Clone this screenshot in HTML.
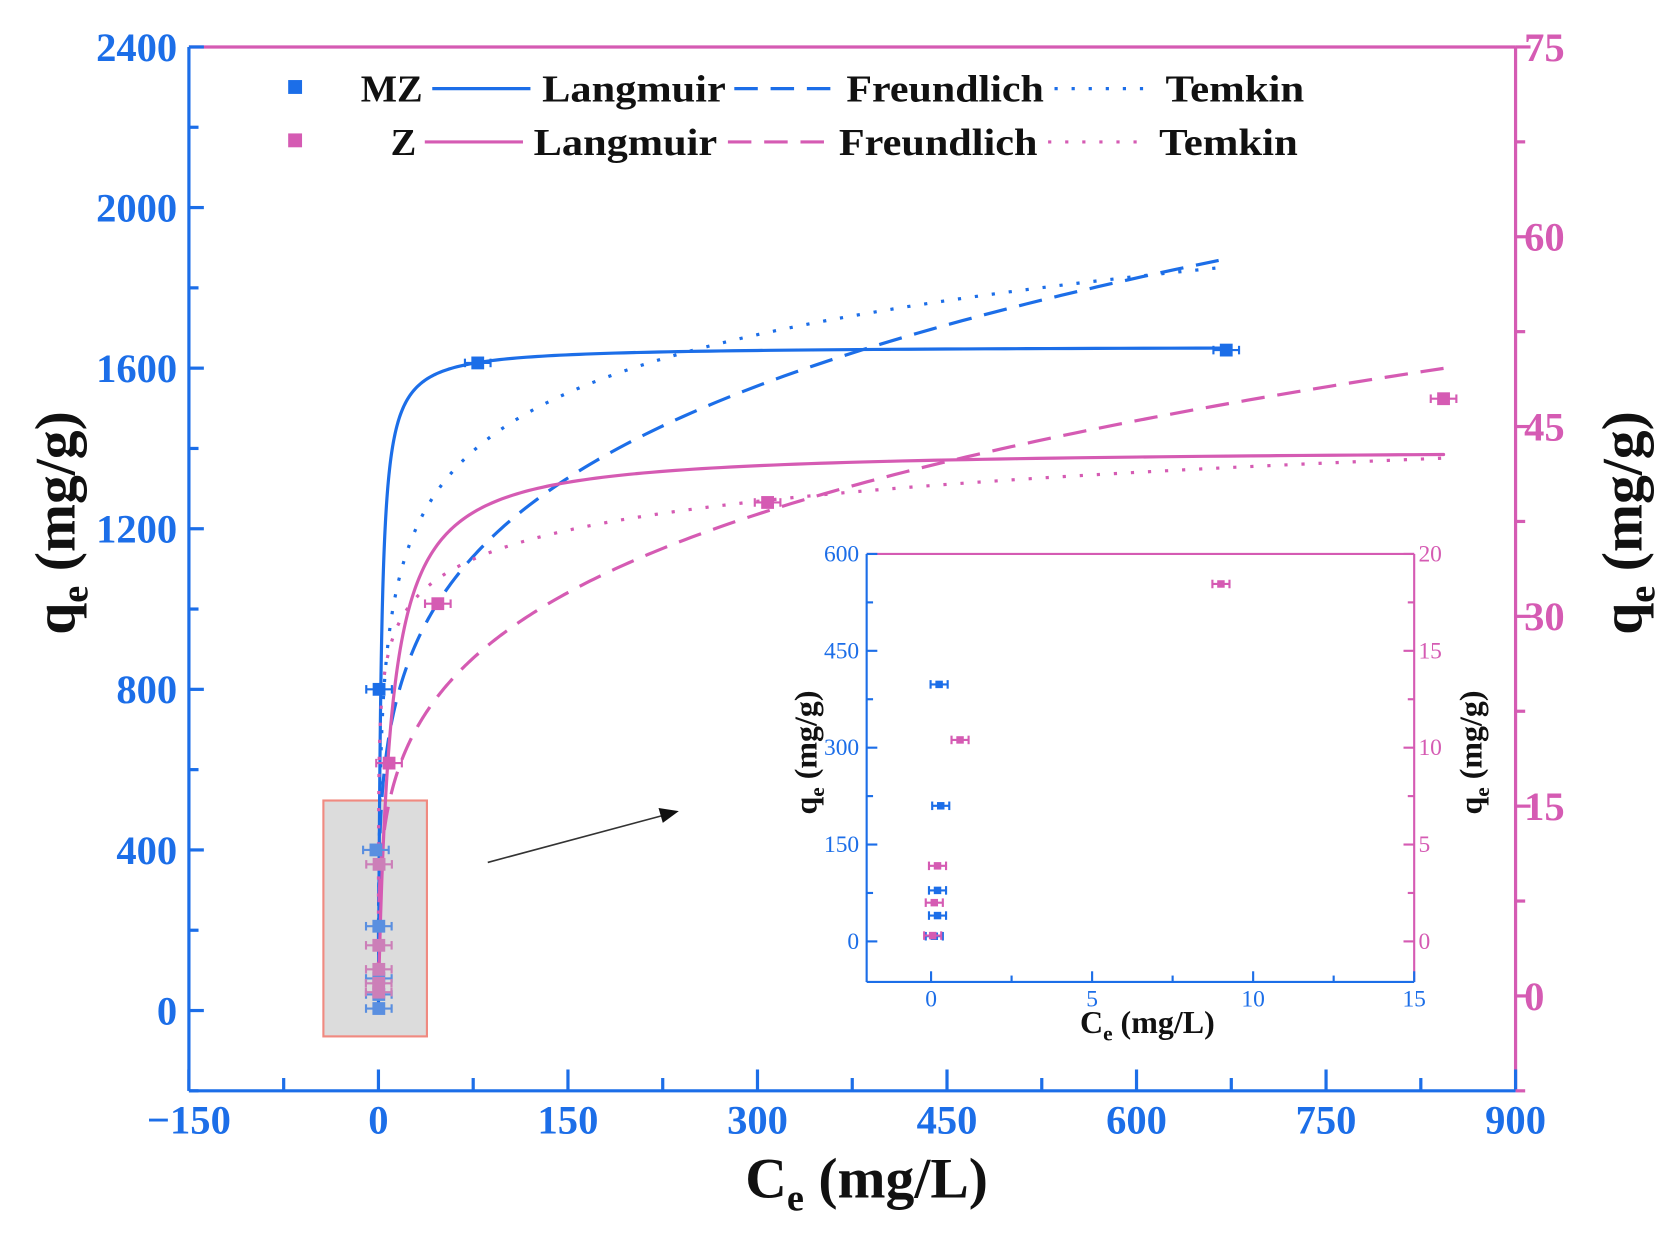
<!DOCTYPE html>
<html><head><meta charset="utf-8"><style>
html,body{margin:0;padding:0;background:#fff}
svg{display:block}
text{font-family:"Liberation Serif",serif;font-weight:bold}
</style></head><body>
<svg id="chart" width="1665" height="1233" viewBox="0 0 1560 1155.2" preserveAspectRatio="none" xmlns="http://www.w3.org/2000/svg"></svg>
<script>
const BLUE = '#1c6ee8', PINK = '#d55bb3';
// main data
const mzCe = [0.3, 0.3, 0.3, 0.3, -2, 0.5, 78.6, 671];
const mzQe = [5, 40, 80, 210, 400, 800, 1613, 1645];
const zCe = [0.2, 0.2, 0.3, 0.3, 0.5, 8.4, 47, 308, 843];
const zQe = [0.3, 1, 2.1, 4, 10.4, 18.4, 31, 39, 47.2];
// model parameters (fitted)
const mzLangmuir = [1655, 0.5];
const mzFreundlich = [419, 0.23];
const mzTemkin = [209, 10.5];
const zLangmuir = [43.3, 0.1];
const zFreundlich = [8.84, 0.256];
const zTemkin = [3.3, 465];
// inset data
const inMzCe = [0.25, 0.3, 0.2, 0.2, 0.1];
const inMzQe = [398, 210, 79, 40, 8];
const inZCe = [0.9, 0.2, 0.1, 0.05, 9.0];
const inZQe = [10.4, 3.9, 2.0, 0.3, 18.45];
const xTicks = [-150, 0, 150, 300, 450, 600, 750, 900];
const yTicks = [0, 400, 800, 1200, 1600, 2000, 2400];
const y2Ticks = [0, 15, 30, 45, 60, 75];
const inXTicks = [0, 5, 10, 15];
const inYTicks = [0, 150, 300, 450, 600];
const inY2Ticks = [0, 5, 10, 15, 20];

const svg = document.getElementById('chart');
const NS = 'http://www.w3.org/2000/svg';
function el(tag, attrs, parent) {
  const e = document.createElementNS(NS, tag);
  for (const k in attrs) e.setAttribute(k, attrs[k]);
  (parent || svg).appendChild(e);
  return e;
}
const L = 177, R = 1420, T = 44, B = 1022;
const X = v => L + (v + 150) / 1050 * (R - L);
const Y = v => B - (v + 200) / 2600 * (B - T);
const Y2 = v => B - (v + 7.5) / 82.5 * (B - T);

let e = el('rect', {x: 303, y: 750, width: 97, height: 221, fill: '#dcdcdc', stroke: '#f08a80', 'stroke-width': 2});


e = el('line', {x1: 457, y1: 808, x2: 625, y2: 763, stroke: '#333', 'stroke-width': 1.5});


e = el('polygon', {points: '636,760 617,757 621,771', fill: '#111'});



e = el('line', {x1: L, y1: T, x2: R, y2: T, stroke: PINK, 'stroke-width': 3});
 
e = el('line', {x1: R, y1: T, x2: R, y2: B, stroke: PINK, 'stroke-width': 3});
 
e = el('line', {x1: L, y1: T, x2: L, y2: B, stroke: BLUE, 'stroke-width': 3});
 
e = el('line', {x1: L, y1: B, x2: R, y2: B, stroke: BLUE, 'stroke-width': 3});
 

for (let v = -150; v <= 900; v += 75) {
  const maj = v % 150 === 0;
  e = el('line', {x1: X(v), y1: B, x2: X(v), y2: B - (maj ? 20 : 12), stroke: BLUE, 'stroke-width': 3});
   
}
xTicks.forEach(v => {
  const t = el('text', {x: X(v), y: 1062, 'text-anchor': 'middle', 'font-size': 38, fill: BLUE});
  t.textContent = v < 0 ? '\u2212' + (-v) : v;
   
});
for (let v = -200; v <= 2400; v += 200) {
  const maj = v % 400 === 0;
  e = el('line', {x1: L, y1: Y(v), x2: L + (maj ? 14 : 9), y2: Y(v), stroke: BLUE, 'stroke-width': 3});
   
}
yTicks.forEach(v => {
  const t = el('text', {x: 166, y: Y(v) + 13, 'text-anchor': 'end', 'font-size': 38, fill: BLUE});
  t.textContent = v;
   
});
for (let v = -7.5; v <= 75; v += 7.5) {
  const maj = Math.abs(v % 15) < 0.01;
  e = el('line', {x1: R, y1: Y2(v), x2: R + (maj ? 14 : 9), y2: Y2(v), stroke: PINK, 'stroke-width': 3});
   
}
y2Ticks.forEach(v => {
  const t = el('text', {x: 1428, y: Y2(v) + 13, 'text-anchor': 'start', 'font-size': 38, fill: PINK});
  t.textContent = v;
   
});

e = el('text', {x: 812, y: 1122, 'text-anchor': 'middle', 'font-size': 54, fill: '#111'});
e.innerHTML = 'C<tspan font-size="36" dy="12">e</tspan><tspan dy="-12"> (mg/L)</tspan>';
 
e = el('text', {x: 0, y: 0, 'text-anchor': 'middle', 'font-size': 54, fill: '#111', transform: 'translate(70,490) rotate(-90)'});
e.innerHTML = 'q<tspan font-size="36" dy="12">e</tspan><tspan dy="-12"> (mg/g)</tspan>';
 
e = el('text', {x: 0, y: 0, 'text-anchor': 'middle', 'font-size': 54, fill: '#111', transform: 'translate(1538,490) rotate(-90)'});
e.innerHTML = 'q<tspan font-size="36" dy="12">e</tspan><tspan dy="-12"> (mg/g)</tspan>';
 

function curve(fn, x0, x1, yf, color, dash, name) {
  let d = '';
  const N = 400;
  for (let i = 0; i <= N; i++) {
    const x = x0 * Math.pow(x1 / x0, i / N);
    let y = yf(fn(x));
    y = Math.min(y, B);
    d += (i ? 'L' : 'M') + X(x).toFixed(2) + ',' + y.toFixed(2);
  }
  const p = el('path', {d: d, fill: 'none', stroke: color, 'stroke-width': 3, 'stroke-dasharray': dash, 'stroke-linecap': dash ? 'butt' : 'round'});
  
  
}
curve(x => mzLangmuir[0] * mzLangmuir[1] * x / (1 + mzLangmuir[1] * x), 0.001, 671, Y, BLUE, '', 'mz-langmuir-curve');
curve(x => mzFreundlich[0] * Math.pow(x, mzFreundlich[1]), 0.02, 665, Y, BLUE, '22,12', 'mz-freundlich-curve');
curve(x => Math.max(-300, mzTemkin[0] * Math.log(mzTemkin[1] * x)), 0.1, 665, Y, BLUE, '3,13', 'mz-temkin-curve');
curve(x => zLangmuir[0] * zLangmuir[1] * x / (1 + zLangmuir[1] * x), 0.01, 843, Y2, PINK, '', 'z-langmuir-curve');
curve(x => zFreundlich[0] * Math.pow(x, zFreundlich[1]), 0.5, 843, Y2, PINK, '22,12', 'z-freundlich-curve');
curve(x => Math.max(-10, zTemkin[0] * Math.log(zTemkin[1] * x)), 0.003, 843, Y2, PINK, '3,13', 'z-temkin-curve');

function point(cx, cy, color, name, s, eb) {
  const g = el('g', {});
  
  
  el('line', {x1: cx - eb, y1: cy, x2: cx + eb, y2: cy, stroke: color, 'stroke-width': 2}, g);
  el('line', {x1: cx - eb, y1: cy - 4, x2: cx - eb, y2: cy + 4, stroke: color, 'stroke-width': 2}, g);
  el('line', {x1: cx + eb, y1: cy - 4, x2: cx + eb, y2: cy + 4, stroke: color, 'stroke-width': 2}, g);
  el('rect', {x: cx - s / 2, y: cy - s / 2, width: s, height: s, fill: color}, g);
}
mzCe.forEach((c, i) => point(X(c), Y(mzQe[i]), mzQe[i] < 500 ? '#5a8fe0' : BLUE, 'mz-data-point', 12, 12));
zCe.forEach((c, i) => point(X(c), Y2(zQe[i]), zQe[i] < 14 ? '#cc7fb8' : PINK, 'z-data-point', 12, 12));

// legend: [lineStart, lineEnd, textStart, textEnd] per item
function legendRow(y, color, label, labelEnd, pos) {
  e = el('rect', {x: 270, y: y - 8, width: 13, height: 13, fill: color});
   
  e = el('text', {x: labelEnd, y: y + 12, 'text-anchor': 'end', 'font-size': 36, fill: '#111'});
  e.textContent = label;  
  const names = ['Langmuir', 'Freundlich', 'Temkin'];
  const dashes = ['', '22,12', '3,13'];
  pos.forEach((p, k) => {
    e = el('line', {x1: p[0], y1: y, x2: p[1], y2: y, stroke: color, 'stroke-width': 3, 'stroke-dasharray': dashes[k]});
     
    e = el('text', {x: p[2], y: y + 12, 'font-size': 36, fill: '#111', textLength: p[3] - p[2], lengthAdjust: 'spacingAndGlyphs'});
    e.textContent = names[k];  
  });
}
legendRow(83, BLUE, 'MZ', 396, [[405, 497, 508, 680], [688, 785, 793, 978], [988, 1082, 1092, 1222]]);
legendRow(133, PINK, 'Z', 390, [[398, 490, 500, 672], [682, 778, 786, 972], [982, 1076, 1086, 1216]]);

// inset
const iL = 812, iR = 1325, iT = 519, iB = 920;
const IX = v => iL + (v + 2) / 17 * (iR - iL);
const IY = v => 882 - v / 600 * 363;
const IY2 = v => 882 - v / 20 * 363;
e = el('rect', {x: iL, y: iT, width: iR - iL, height: iB - iT, fill: '#fff'});
 
e = el('line', {x1: iL, y1: iT, x2: iR, y2: iT, stroke: PINK, 'stroke-width': 2});
 
e = el('line', {x1: iR, y1: iT, x2: iR, y2: iB, stroke: PINK, 'stroke-width': 2});
 
e = el('line', {x1: iL, y1: iT, x2: iL, y2: iB, stroke: BLUE, 'stroke-width': 2});
 
e = el('line', {x1: iL, y1: iB, x2: iR, y2: iB, stroke: BLUE, 'stroke-width': 2});
 
for (let v = 0; v <= 15; v += 2.5) {
  e = el('line', {x1: IX(v), y1: iB, x2: IX(v), y2: iB - (v % 5 === 0 ? 10 : 6), stroke: BLUE, 'stroke-width': 2});
   
}
inXTicks.forEach(v => {
  const t = el('text', {x: IX(v), y: 943, 'text-anchor': 'middle', 'font-size': 22, fill: BLUE});
  t.style.fontWeight = 'normal'; t.textContent = v;
   
});
for (let v = 0; v <= 600; v += 75) {
  e = el('line', {x1: iL, y1: IY(v), x2: iL + (v % 150 === 0 ? 10 : 6), y2: IY(v), stroke: BLUE, 'stroke-width': 2});
   
}
inYTicks.forEach(v => {
  const t = el('text', {x: 805, y: IY(v) + 7, 'text-anchor': 'end', 'font-size': 22, fill: BLUE});
  t.style.fontWeight = 'normal'; t.textContent = v;
   
});
for (let v = 0; v <= 20; v += 2.5) {
  e = el('line', {x1: iR, y1: IY2(v), x2: iR - (v % 5 === 0 ? 10 : 6), y2: IY2(v), stroke: PINK, 'stroke-width': 2});
   
}
inY2Ticks.forEach(v => {
  const t = el('text', {x: 1329, y: IY2(v) + 7, 'text-anchor': 'start', 'font-size': 22, fill: PINK});
  t.style.fontWeight = 'normal'; t.textContent = v;
   
});
e = el('text', {x: 1075, y: 968, 'text-anchor': 'middle', 'font-size': 30, fill: '#111'});
e.innerHTML = 'C<tspan font-size="20" dy="7">e</tspan><tspan dy="-7"> (mg/L)</tspan>';
 
e = el('text', {x: 0, y: 0, 'text-anchor': 'middle', 'font-size': 30, fill: '#111', transform: 'translate(765,705) rotate(-90)'});
e.innerHTML = 'q<tspan font-size="20" dy="7">e</tspan><tspan dy="-7"> (mg/g)</tspan>';
 
e = el('text', {x: 0, y: 0, 'text-anchor': 'middle', 'font-size': 30, fill: '#111', transform: 'translate(1388,705) rotate(-90)'});
e.innerHTML = 'q<tspan font-size="20" dy="7">e</tspan><tspan dy="-7"> (mg/g)</tspan>';
 
inMzCe.forEach((c, i) => point(IX(c), IY(inMzQe[i]), BLUE, 'inset-mz-point', 7, 8));
inZCe.forEach((c, i) => point(IX(c), IY2(inZQe[i]), PINK, 'inset-z-point', 7, 8));
</script>
</body></html>
